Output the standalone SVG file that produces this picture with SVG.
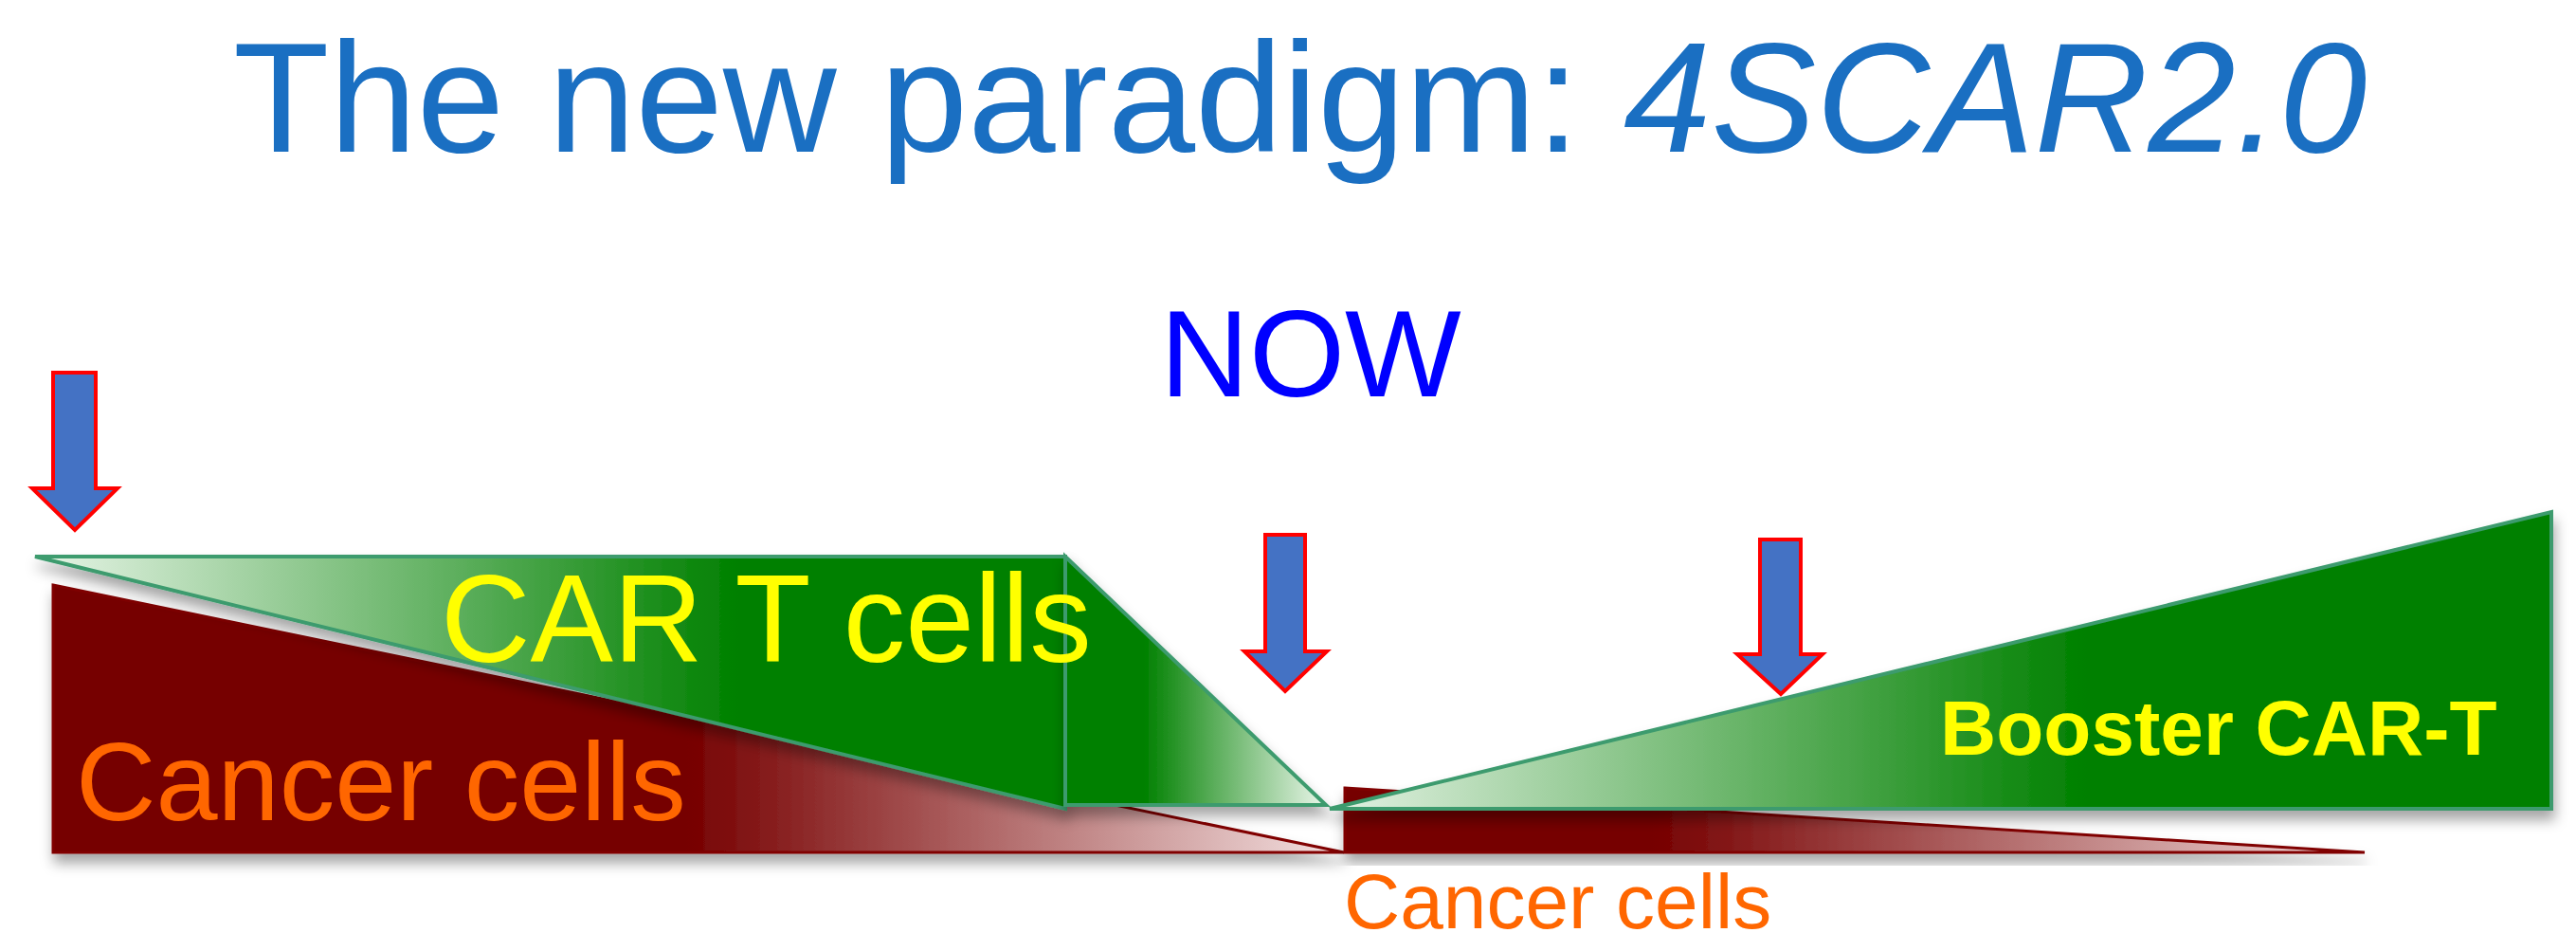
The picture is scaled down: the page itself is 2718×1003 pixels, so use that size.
<svg xmlns="http://www.w3.org/2000/svg" width="2718" height="1003" viewBox="0 0 2718 1003">
<defs>
<style>
.t{font-family:"Liberation Sans",Arial,sans-serif}
.g{stroke:#3C9B6E;stroke-width:4;stroke-linejoin:miter}
.r{stroke:#800000;stroke-width:3;stroke-linejoin:miter}
.arrow{fill:#4472C4;stroke:#FF0000;stroke-width:4}
</style>
<filter id="sh" x="-5%" y="-10%" width="110%" height="130%">
<feDropShadow dx="2" dy="10" stdDeviation="7" flood-color="#000" flood-opacity="0.35"/>
</filter>
<linearGradient id="gCar1" gradientUnits="userSpaceOnUse" x1="37" y1="0" x2="780" y2="0">
<stop offset="0" stop-color="#E8F5E8"/>
<stop offset="1" stop-color="#008000"/>
</linearGradient>
<linearGradient id="gCar2" gradientUnits="userSpaceOnUse" x1="1124" y1="0" x2="1399" y2="0">
<stop offset="0" stop-color="#008000"/>
<stop offset="0.3" stop-color="#008000"/>
<stop offset="1" stop-color="#EAF6EA"/>
</linearGradient>
<linearGradient id="gBoost" gradientUnits="userSpaceOnUse" x1="1403" y1="0" x2="2692" y2="0">
<stop offset="0" stop-color="#E4F2E4"/>
<stop offset="0.62" stop-color="#008000"/>
<stop offset="1" stop-color="#008000"/>
</linearGradient>
<linearGradient id="gRed1" gradientUnits="userSpaceOnUse" x1="56" y1="0" x2="1418" y2="0">
<stop offset="0" stop-color="#760000"/>
<stop offset="0.49" stop-color="#760000"/>
<stop offset="1" stop-color="#F4E2E2"/>
</linearGradient>
<linearGradient id="gRed2" gradientUnits="userSpaceOnUse" x1="1419" y1="0" x2="2495" y2="0">
<stop offset="0" stop-color="#760000"/>
<stop offset="0.3" stop-color="#760000"/>
<stop offset="1" stop-color="#F2DCDC"/>
</linearGradient>
</defs>
<rect width="2718" height="1003" fill="#FFFFFF"/>

<g id="title">
<text class="t" x="246" y="160" font-size="166" fill="#1A6FC2">The new paradigm: <tspan font-style="italic">4SCAR2.0</tspan></text>
</g>

<g id="now">
<text class="t" x="1224" y="418" font-size="130" fill="#0000FF">NOW</text>
</g>

<g id="cancer-cells-1">
<path class="r" d="M56,617 L1418,899 L56,899 Z" fill="url(#gRed1)" filter="url(#sh)"/>
</g>

<g id="car-t-cells">
<path class="g" d="M37,587 L1124,587 L1124,853 Z" fill="url(#gCar1)" filter="url(#sh)"/>
<path class="g" d="M1124,587 L1399,849 L1124,849 Z" fill="url(#gCar2)" filter="url(#sh)"/>
</g>

<g id="cancer-cells-2">
<path class="r" d="M1419,831 L2495,899 L1419,899 Z" fill="url(#gRed2)" filter="url(#sh)"/>
</g>

<g id="booster-car-t">
<path class="g" d="M1403,853 L2692,540 L2692,853 Z" fill="url(#gBoost)" filter="url(#sh)"/>
</g>

<g id="labels">
<text class="t" x="80" y="865" font-size="117" fill="#FF6600">Cancer cells</text>
<text class="t" x="465" y="698" font-size="131" fill="#FFFF00">CAR T cells</text>
<text class="t" x="2047" y="796" font-size="82" font-weight="bold" fill="#FFFF00">Booster CAR-T</text>
<text class="t" x="1418" y="979" font-size="82" fill="#FF6600">Cancer cells</text>
</g>

<g id="connectors">
<path class="arrow" d="M56,393 H101 V515 H124 L79,559 L34,515 H56 Z"/>
<path class="arrow" d="M1335,564 H1377 V687 H1400 L1356,729 L1313,687 H1335 Z"/>
<path class="arrow" d="M1857,569 H1900 V690 H1923 L1879,732 L1833,690 H1857 Z"/>
</g>
</svg>
